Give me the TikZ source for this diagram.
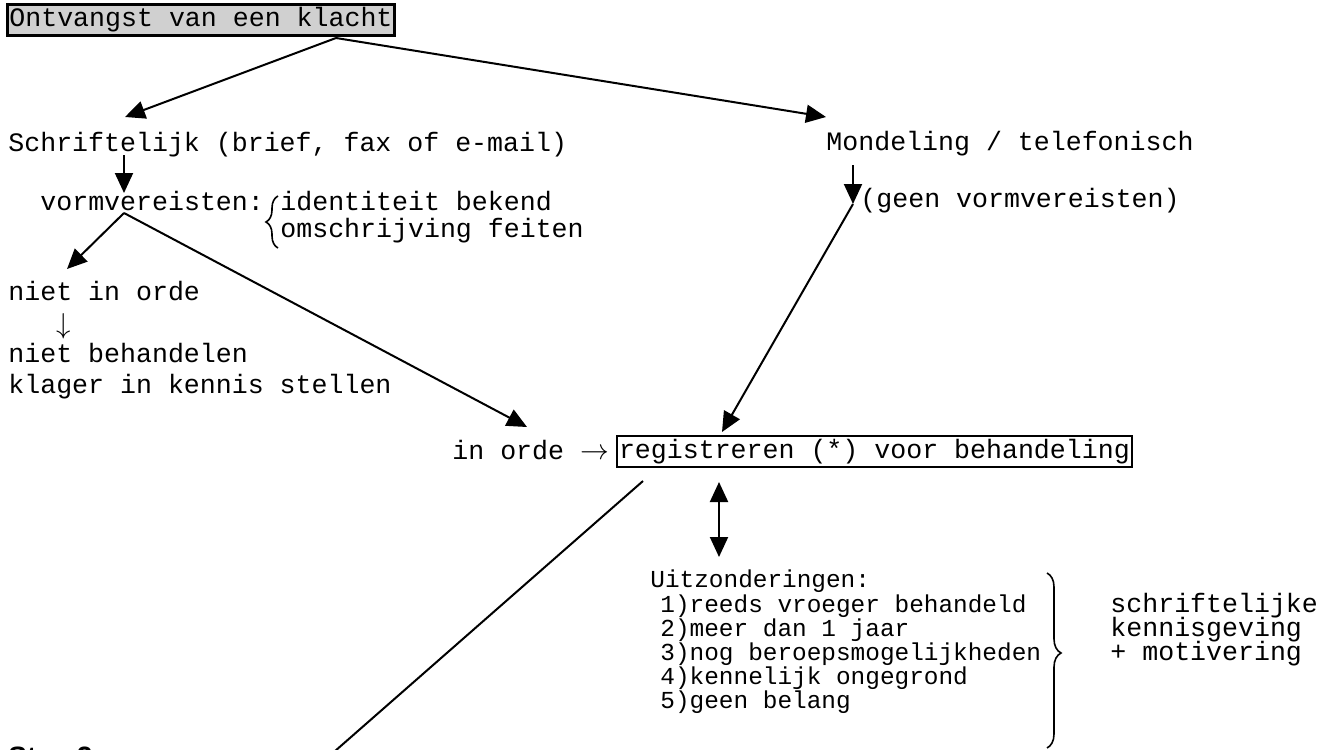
\documentclass[tikz,border=0pt]{standalone}
\usepackage{fontspec}
\newfontfamily\monofnt{Liberation Mono}
\newfontfamily\stapfnt{Liberation Sans}
\usetikzlibrary{arrows.meta,decorations.pathreplacing}
\definecolor{boxgray}{RGB}{208,208,208}
\newcommand\diagfont{\monofnt\fontsize{13.3pt}{16pt}\selectfont}
\newcommand\listfont{\monofnt\fontsize{12.2pt}{14pt}\selectfont}

\begin{document}
\begin{tikzpicture}[x=0.5pt,y=-0.5pt,
  every node/.style={font=\diagfont, inner sep=0pt, anchor=base west},
  listitem/.style={font=\listfont},
  framed/.style={draw, line width=1pt, inner xsep=1pt, inner ysep=1.5pt,
                 text height=9.5pt, text depth=3pt, anchor=west},
  conn/.style={line width=1pt},
  arr/.style={conn, -{Triangle[length=10pt,width=9pt]}},
  dblarr/.style={conn, {Triangle[length=10pt,width=9pt]}-{Triangle[length=10pt,width=9pt]}},
  bracedeco/.style={decorate, line width=0.8pt}
]
\useasboundingbox (0,0) rectangle (1336,749);

% start of the procedure
\node[framed, fill=boxgray, line width=1.4pt] (start) at (6,20) {Ontvangst van een klacht};
\coordinate (split) at (336,38);

% written channel
\node (schr) at (8,151) {Schriftelijk (brief, fax of e-mail)};
\coordinate (schrtip) at (125,117);
\draw[arr] (split) -- (schrtip);

\coordinate (schrdown) at (124,155);
\coordinate (vormtip) at (124,193);
\draw[arr] (schrdown) -- (vormtip);

\node (vorm) at (40,210) {vormvereisten:};
\node (ident) at (280,210) {identiteit bekend};
\node (omschr) at (280,237) {omschrijving feiten};
\coordinate (lbrb) at (278,248);
\coordinate (lbrt) at (278,196);
\draw[bracedeco, decoration={brace, amplitude=6pt}] (lbrb) -- (lbrt);

\coordinate (vsplit) at (124,213);
\coordinate (niettip) at (67,269);
\coordinate (ordetip) at (527,427);
\draw[arr] (vsplit) -- (niettip);
\draw[arr] (vsplit) -- (ordetip);

\node (niet) at (8,300) {niet in orde};
\node[anchor=base] (down) at (64,333) {$\downarrow$};
\node (nbeh) at (8,362) {niet behandelen};
\node (klager) at (8,393) {klager in kennis stellen};

% oral channel
\node (mond) at (826,150) {Mondeling / telefonisch};
\coordinate (mondtip) at (826,117);
\draw[arr] (split) -- (mondtip);

\coordinate (monddown) at (853,165);
\coordinate (geentip) at (853,204);
\draw[arr] (monddown) -- (geentip);
\node (geen) at (860,207) {(geen vormvereisten)};

% registration
\node (orde) at (452,459) {in orde $\rightarrow$};
\node[framed] (reg) at (616,451.5) {registreren (*) voor behandeling};
\coordinate (regtip) at (722,432);
\draw[arr] (geentip) -- (regtip);

\coordinate (regout) at (643,481);
\coordinate (nextstep) at (302,780);
\draw[conn] (regout) -- (nextstep);

\coordinate (uitztop) at (719,482);
\coordinate (uitzbot) at (719,557);
\draw[dblarr] (uitztop) -- (uitzbot);

% exceptions
\node[listitem] (uitz) at (650,587) {Uitzonderingen:};
\node[listitem] (u1) at (660,612) {1)reeds vroeger behandeld};
\node[listitem] (u2) at (660,636) {2)meer dan 1 jaar};
\node[listitem] (u3) at (660,660) {3)nog beroepsmogelijkheden};
\node[listitem] (u4) at (660,684) {4)kennelijk ongegrond};
\node[listitem] (u5) at (660,708) {5)geen belang};

\coordinate (rbrt) at (1047,573);
\coordinate (rbrb) at (1047,748);
\draw[bracedeco, decoration={brace, amplitude=7pt, aspect=0.457}] (rbrt) -- (rbrb);

\node (schk) at (1110,612) {schriftelijke};
\node (kenn) at (1110,636) {kennisgeving};
\node (motiv) at (1110,660) {+ motivering};

% next step heading, running past the lower edge
\node[font=\stapfnt\bfseries\fontsize{14pt}{16pt}\selectfont] (stap) at (8,766) {Stap 2};
\end{tikzpicture}
\end{document}
